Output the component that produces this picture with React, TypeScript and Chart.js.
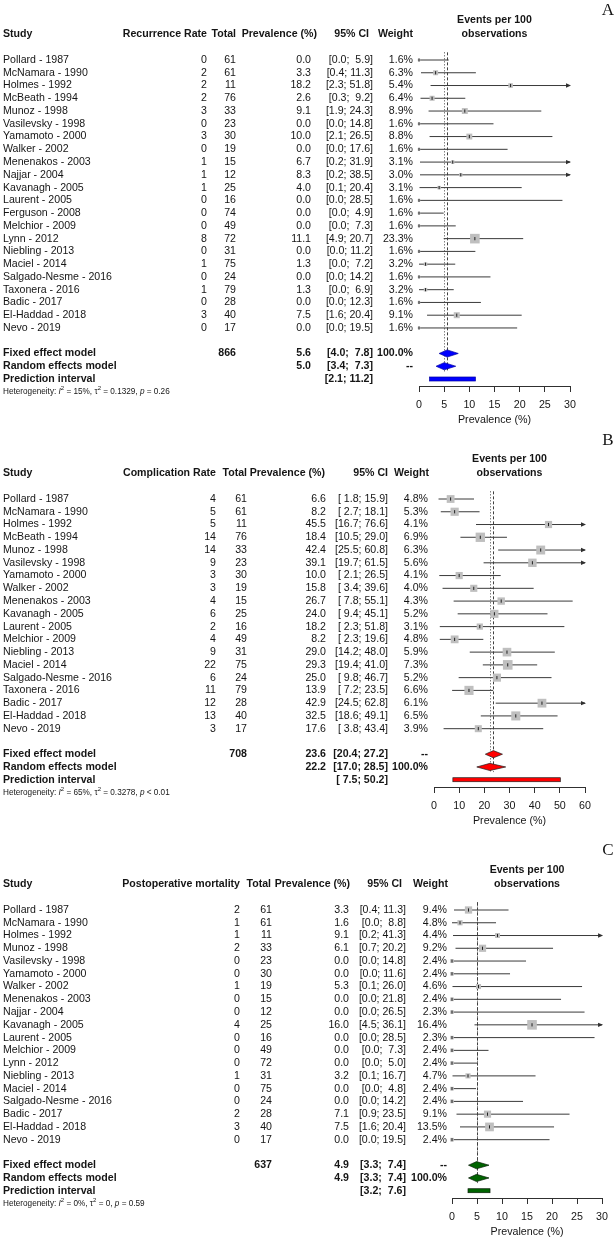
import React, { useEffect, useRef } from "react";
import { Chart, registerables } from "chart.js";
Chart.register(...registerables);

// ---------- Panel A: recurrence ----------
const studiesA = ["Pollard - 1987", "McNamara - 1990", "Holmes - 1992", "McBeath - 1994", "Munoz - 1998", "Vasilevsky - 1998", "Yamamoto - 2000", "Walker - 2002", "Menenakos - 2003", "Najjar - 2004", "Kavanagh - 2005", "Laurent - 2005", "Ferguson - 2008", "Melchior - 2009", "Lynn - 2012", "Niebling - 2013", "Maciel - 2014", "Salgado-Nesme - 2016", "Taxonera - 2016", "Badic - 2017", "El-Haddad - 2018", "Nevo - 2019"];
const eventsA = [0, 2, 2, 2, 3, 0, 3, 0, 1, 1, 1, 0, 0, 0, 8, 0, 1, 0, 1, 0, 3, 0];
const totalsA = [61, 61, 11, 76, 33, 23, 30, 19, 15, 12, 25, 16, 74, 49, 72, 31, 75, 24, 79, 28, 40, 17];
const prevA = [0.0, 3.3, 18.2, 2.6, 9.1, 0.0, 10.0, 0.0, 6.7, 8.3, 4.0, 0.0, 0.0, 0.0, 11.1, 0.0, 1.3, 0.0, 1.3, 0.0, 7.5, 0.0];
const lowerA = [0.0, 0.4, 2.3, 0.3, 1.9, 0.0, 2.1, 0.0, 0.2, 0.2, 0.1, 0.0, 0.0, 0.0, 4.9, 0.0, 0.0, 0.0, 0.0, 0.0, 1.6, 0.0];
const upperA = [5.9, 11.3, 51.8, 9.2, 24.3, 14.8, 26.5, 17.6, 31.9, 38.5, 20.4, 28.5, 4.9, 7.3, 20.7, 11.2, 7.2, 14.2, 6.9, 12.3, 20.4, 19.5];
const weightsA = [1.6, 6.3, 5.4, 6.4, 8.9, 1.6, 8.8, 1.6, 3.1, 3.0, 3.1, 1.6, 1.6, 1.6, 23.3, 1.6, 3.2, 1.6, 3.2, 1.6, 9.1, 1.6];
const fixedA = [5.6, 4.0, 7.8];
const randomA = [5.0, 3.4, 7.3];
const predA = [2.1, 11.2];
const totalA = 866;
const hetA = ["15%", "0.1329", "= 0.26"];
const ticksA = [0, 5, 10, 15, 20, 25, 30];

// ---------- Panel B: complications ----------
const studiesB = ["Pollard - 1987", "McNamara - 1990", "Holmes - 1992", "McBeath - 1994", "Munoz - 1998", "Vasilevsky - 1998", "Yamamoto - 2000", "Walker - 2002", "Menenakos - 2003", "Kavanagh - 2005", "Laurent - 2005", "Melchior - 2009", "Niebling - 2013", "Maciel - 2014", "Salgado-Nesme - 2016", "Taxonera - 2016", "Badic - 2017", "El-Haddad - 2018", "Nevo - 2019"];
const eventsB = [4, 5, 5, 14, 14, 9, 3, 3, 4, 6, 2, 4, 9, 22, 6, 11, 12, 13, 3];
const totalsB = [61, 61, 11, 76, 33, 23, 30, 19, 15, 25, 16, 49, 31, 75, 24, 79, 28, 40, 17];
const prevB = [6.6, 8.2, 45.5, 18.4, 42.4, 39.1, 10.0, 15.8, 26.7, 24.0, 18.2, 8.2, 29.0, 29.3, 25.0, 13.9, 42.9, 32.5, 17.6];
const lowerB = [1.8, 2.7, 16.7, 10.5, 25.5, 19.7, 2.1, 3.4, 7.8, 9.4, 2.3, 2.3, 14.2, 19.4, 9.8, 7.2, 24.5, 18.6, 3.8];
const upperB = [15.9, 18.1, 76.6, 29.0, 60.8, 61.5, 26.5, 39.6, 55.1, 45.1, 51.8, 19.6, 48.0, 41.0, 46.7, 23.5, 62.8, 49.1, 43.4];
const weightsB = [4.8, 5.3, 4.1, 6.9, 6.3, 5.6, 4.1, 4.0, 4.3, 5.2, 3.1, 4.8, 5.9, 7.3, 5.2, 6.6, 6.1, 6.5, 3.9];
const fixedB = [23.6, 20.4, 27.2];
const randomB = [22.2, 17.0, 28.5];
const predB = [7.5, 50.2];
const totalB = 708;
const hetB = ["65%", "0.3278", "< 0.01"];
const ticksB = [0, 10, 20, 30, 40, 50, 60];

// ---------- Panel C: mortality ----------
const studiesC = ["Pollard - 1987", "McNamara - 1990", "Holmes - 1992", "Munoz - 1998", "Vasilevsky - 1998", "Yamamoto - 2000", "Walker - 2002", "Menenakos - 2003", "Najjar - 2004", "Kavanagh - 2005", "Laurent - 2005", "Melchior - 2009", "Lynn - 2012", "Niebling - 2013", "Maciel - 2014", "Salgado-Nesme - 2016", "Badic - 2017", "El-Haddad - 2018", "Nevo - 2019"];
const eventsC = [2, 1, 1, 2, 0, 0, 1, 0, 0, 4, 0, 0, 0, 1, 0, 0, 2, 3, 0];
const totalsC = [61, 61, 11, 33, 23, 30, 19, 15, 12, 25, 16, 49, 72, 31, 75, 24, 28, 40, 17];
const prevC = [3.3, 1.6, 9.1, 6.1, 0.0, 0.0, 5.3, 0.0, 0.0, 16.0, 0.0, 0.0, 0.0, 3.2, 0.0, 0.0, 7.1, 7.5, 0.0];
const lowerC = [0.4, 0.0, 0.2, 0.7, 0.0, 0.0, 0.1, 0.0, 0.0, 4.5, 0.0, 0.0, 0.0, 0.1, 0.0, 0.0, 0.9, 1.6, 0.0];
const upperC = [11.3, 8.8, 41.3, 20.2, 14.8, 11.6, 26.0, 21.8, 26.5, 36.1, 28.5, 7.3, 5.0, 16.7, 4.8, 14.2, 23.5, 20.4, 19.5];
const weightsC = [9.4, 4.8, 4.4, 9.2, 2.4, 2.4, 4.6, 2.4, 2.3, 16.4, 2.3, 2.4, 2.4, 4.7, 2.4, 2.4, 9.1, 13.5, 2.4];
const fixedC = [4.9, 3.3, 7.4];
const randomC = [4.9, 3.3, 7.4];
const predC = [3.2, 7.6];
const totalC = 637;
const hetC = ["0%", "0", "= 0.59"];
const ticksC = [0, 5, 10, 15, 20, 25, 30];

const FONT = '"Liberation Sans", Arial, Helvetica, sans-serif';
const SERIF = '"Liberation Serif", "Times New Roman", serif';
const TXT = "#151515";
const ROW_H = 12.76;
const AXIS_H = 40;
const FS = 10.6;

type Panel = {
  letter: string; top: number; height: number; rateHeader: string;
  studies: string[]; events: number[]; totals: number[]; prev: number[];
  lower: number[]; upper: number[]; weights: number[];
  fixed: number[]; random: number[]; pred: number[]; total: number; het: string[];
  ticks: number[]; fixedW: string; randomW: string;
  fill: string; stroke: string;
  row0: number; axisY: number; x0: number; x1: number;
  col: number[]; hdr: number[];
};

const panels: Panel[] = [
  {
    letter: "A", top: 0, height: 430, rateHeader: "Recurrence Rate",
    studies: studiesA, events: eventsA, totals: totalsA, prev: prevA, lower: lowerA, upper: upperA, weights: weightsA,
    fixed: fixedA, random: randomA, pred: predA, total: totalA, het: hetA, ticks: ticksA,
    fixedW: "100.0%", randomW: "--", fill: "#0000ff", stroke: "#0000a0",
    row0: 60, axisY: 386, x0: 419, x1: 570,
    col: [207, 236, 311, 373, 413], hdr: [207, 236, 317, 369, 413],
  },
  {
    letter: "B", top: 430, height: 410, rateHeader: "Complication Rate",
    studies: studiesB, events: eventsB, totals: totalsB, prev: prevB, lower: lowerB, upper: upperB, weights: weightsB,
    fixed: fixedB, random: randomB, pred: predB, total: totalB, het: hetB, ticks: ticksB,
    fixedW: "--", randomW: "100.0%", fill: "#ff0000", stroke: "#202020",
    row0: 69, axisY: 357, x0: 434, x1: 585,
    col: [216, 247, 326, 388, 428], hdr: [216, 247, 325, 388, 429],
  },
  {
    letter: "C", top: 840, height: 400, rateHeader: "Postoperative mortality",
    studies: studiesC, events: eventsC, totals: totalsC, prev: prevC, lower: lowerC, upper: upperC, weights: weightsC,
    fixed: fixedC, random: randomC, pred: predC, total: totalC, het: hetC, ticks: ticksC,
    fixedW: "--", randomW: "100.0%", fill: "#006400", stroke: "#0a200a",
    row0: 70, axisY: 358, x0: 452, x1: 603,
    col: [240, 272, 349, 406, 447], hdr: [240, 271, 350, 402, 448],
  },
];

function makeCI(p: Panel) {
  const los = [...p.lower, p.fixed[1], p.random[1], p.pred[0]].map((v) => v.toFixed(1));
  const his = [...p.upper, p.fixed[2], p.random[2], p.pred[1]].map((v) => v.toFixed(1));
  const wl = Math.max(...los.map((s) => s.length));
  const wh = Math.max(...his.map((s) => s.length));
  return los.map((l, i) => "[" + l.padStart(wl, " ") + "; " + his[i].padStart(wh, " ") + "]");
}

function buildConfig(p: Panel): any {
  const n = p.studies.length;
  const T = p.row0 - ROW_H;
  const yMin = -1;
  const yMax = -1 + (p.axisY - T) / ROW_H;
  const xMax = p.ticks[p.ticks.length - 1];
  const step = p.ticks[1] - p.ticks[0];
  const wMax = Math.max(...p.weights);
  const side = (w: number) => 9.6 * Math.sqrt(w / wMax);
  const ciText = makeCI(p);

  const ciData: any[] = [];
  p.lower.forEach((lo, i) => {
    ciData.push({ x: lo, y: i }, { x: Math.min(p.upper[i], xMax), y: i }, { x: lo, y: null });
  });

  const plugin = {
    id: "forestTable" + p.letter,
    beforeDatasetsDraw(chart: any) {
      const ctx = chart.ctx;
      const xs = chart.scales.x, ys = chart.scales.y;
      const yTop = ys.getPixelForValue(-0.6);
      const yBot = ys.getPixelForValue(n + 2.4);
      ctx.save();
      ctx.strokeStyle = "#404040";
      ctx.lineWidth = 1;
      ctx.setLineDash([3, 2]);
      const xf = Math.round(xs.getPixelForValue(p.fixed[0])) + 0.5;
      ctx.beginPath(); ctx.moveTo(xf, yTop); ctx.lineTo(xf, yBot); ctx.stroke();
      ctx.setLineDash([1, 2]);
      const xr = Math.round(xs.getPixelForValue(p.random[0])) + 0.5;
      ctx.beginPath(); ctx.moveTo(xr, yTop); ctx.lineTo(xr, yBot); ctx.stroke();
      ctx.restore();
    },
    afterDatasetsDraw(chart: any) {
      const ctx = chart.ctx;
      const xs = chart.scales.x, ys = chart.scales.y;
      ctx.save();
      ctx.fillStyle = "#303030";
      p.upper.forEach((u, i) => {
        if (u > xMax) {
          const x = xs.getPixelForValue(xMax);
          const y = ys.getPixelForValue(i);
          ctx.beginPath(); ctx.moveTo(x + 1, y); ctx.lineTo(x - 4, y - 2.2); ctx.lineTo(x - 4, y + 2.2); ctx.closePath(); ctx.fill();
        }
      });
      const diamond = (s: number[], row: number) => {
        const y = ys.getPixelForValue(row);
        ctx.beginPath();
        ctx.moveTo(xs.getPixelForValue(s[1]), y);
        ctx.lineTo(xs.getPixelForValue(s[0]), y - 3.6);
        ctx.lineTo(xs.getPixelForValue(s[2]), y);
        ctx.lineTo(xs.getPixelForValue(s[0]), y + 3.6);
        ctx.closePath();
        ctx.fillStyle = p.fill; ctx.fill();
        ctx.strokeStyle = p.stroke; ctx.lineWidth = 0.7; ctx.stroke();
      };
      diamond(p.fixed, n + 1);
      diamond(p.random, n + 2);
      const yp = ys.getPixelForValue(n + 3);
      const a = xs.getPixelForValue(p.pred[0]), b = xs.getPixelForValue(p.pred[1]);
      ctx.fillStyle = p.fill; ctx.fillRect(a, yp - 2, b - a, 4);
      ctx.strokeStyle = p.stroke; ctx.lineWidth = 0.7; ctx.strokeRect(a, yp - 2, b - a, 4);
      ctx.restore();
    },
    afterDraw(chart: any) {
      const ctx = chart.ctx;
      const xs = chart.scales.x, ys = chart.scales.y;
      ctx.save();
      ctx.textBaseline = "middle";
      ctx.fillStyle = TXT;
      const t = (s: string, x: number, row: number, align: CanvasTextAlign, bold = false, size = FS) => {
        ctx.font = (bold ? "bold " : "") + size + "px " + FONT;
        ctx.textAlign = align;
        ctx.fillText(s, x, ys.getPixelForValue(row));
      };
      ctx.font = "17px " + SERIF; ctx.textAlign = "center";
      ctx.fillText(p.letter, 608, 11);
      const hr = -2.05;
      t("Study", 3, hr, "left", true);
      t(p.rateHeader, p.hdr[0], hr, "right", true);
      t("Total", p.hdr[1], hr, "right", true);
      t("Prevalence (%)", p.hdr[2], hr, "right", true);
      t("95% CI", p.hdr[3], hr, "right", true);
      t("Weight", p.hdr[4], hr, "right", true);
      const xc = xs.getPixelForValue(xMax / 2);
      t("Events per 100", xc, -3.15, "center", true);
      t("observations", xc, hr, "center", true);
      p.studies.forEach((s, i) => {
        t(s, 3, i, "left");
        t(String(p.events[i]), p.col[0], i, "right");
        t(String(p.totals[i]), p.col[1], i, "right");
        t(p.prev[i].toFixed(1), p.col[2], i, "right");
        t(ciText[i], p.col[3], i, "right");
        t(p.weights[i].toFixed(1) + "%", p.col[4], i, "right");
      });
      t("Fixed effect model", 3, n + 1, "left", true);
      t(String(p.total), p.col[1], n + 1, "right", true);
      t(p.fixed[0].toFixed(1), p.col[2], n + 1, "right", true);
      t(ciText[n], p.col[3], n + 1, "right", true);
      t(p.fixedW, p.col[4], n + 1, "right", true);
      t("Random effects model", 3, n + 2, "left", true);
      t(p.random[0].toFixed(1), p.col[2], n + 2, "right", true);
      t(ciText[n + 1], p.col[3], n + 2, "right", true);
      t(p.randomW, p.col[4], n + 2, "right", true);
      t("Prediction interval", 3, n + 3, "left", true);
      t(ciText[n + 2], p.col[3], n + 3, "right", true);
      const yh = ys.getPixelForValue(n + 4);
      let x = 3;
      const seg = (s: string, style: string, size: number, dy: number) => {
        ctx.font = style + size + "px " + FONT;
        ctx.textAlign = "left";
        ctx.fillText(s, x, yh + dy);
        x += ctx.measureText(s).width;
      };
      const hs = 8.2;
      seg("Heterogeneity: ", "", hs, 0);
      seg("I", "italic ", hs, 0);
      seg("2", "", 6, -3.5);
      seg(" = " + p.het[0] + ", ", "", hs, 0);
      seg("\u03c4", "", hs, 0);
      seg("2", "", 6, -3.5);
      seg(" = " + p.het[1] + ", ", "", hs, 0);
      seg("p", "italic ", hs, 0);
      seg(" " + p.het[2], "", hs, 0);
      ctx.restore();
    },
  };

  return {
    type: "scatter",
    data: {
      datasets: [
        {
          data: p.prev.map((v, i) => ({ x: v, y: i })),
          pointStyle: "line", pointRotation: 90, pointRadius: 1.6,
          pointBorderWidth: 1, pointBorderColor: "#202020", order: 0, clip: false,
        },
        {
          data: p.prev.map((v, i) => ({ x: v, y: i })),
          pointStyle: "rect", pointRadius: p.weights.map((w) => side(w) / Math.SQRT2),
          pointBackgroundColor: "#bfbfbf", pointBorderWidth: 0, order: 1, clip: false,
        },
        {
          data: ciData, showLine: true, spanGaps: false, pointRadius: 0,
          borderColor: "#3a3a3a", borderWidth: 1, order: 2, clip: false,
        },
      ],
    },
    options: {
      responsive: false,
      animation: false,
      events: [],
      layout: { padding: { left: p.x0, right: 615 - p.x1, top: T, bottom: p.height - p.axisY - AXIS_H } },
      plugins: { legend: { display: false }, tooltip: { enabled: false }, title: { display: false } },
      scales: {
        x: {
          type: "linear", min: 0, max: xMax,
          ticks: { stepSize: step, font: { family: FONT, size: 10.7 }, color: TXT, padding: 7 },
          grid: { drawOnChartArea: false, drawTicks: true, tickLength: 6, color: "#303030" },
          border: { display: true, color: "#303030", width: 1 },
          title: { display: true, text: "Prevalence (%)", font: { family: FONT, size: 10.7 }, color: TXT, padding: { top: 0, bottom: 0 } },
          afterFit: (s: any) => { s.height = AXIS_H; },
        },
        y: { type: "linear", display: false, reverse: true, min: yMin, max: yMax },
      },
    },
    plugins: [plugin],
  };
}

function ForestPanel({ p }: { p: Panel }) {
  const ref = useRef<HTMLCanvasElement | null>(null);
  useEffect(() => {
    if (!ref.current) return;
    const chart = new Chart(ref.current, buildConfig(p));
    return () => chart.destroy();
  }, [p]);
  return (
    <canvas
      ref={ref}
      width={615}
      height={p.height}
      style={{ position: "absolute", left: 0, top: p.top, width: 615, height: p.height }}
    />
  );
}

export default function App() {
  return (
    <div style={{ position: "absolute", left: 0, top: 0, width: 615, height: 1240, background: "#fff" }}>
      {panels.map((p) => (
        <ForestPanel key={p.letter} p={p} />
      ))}
    </div>
  );
}
